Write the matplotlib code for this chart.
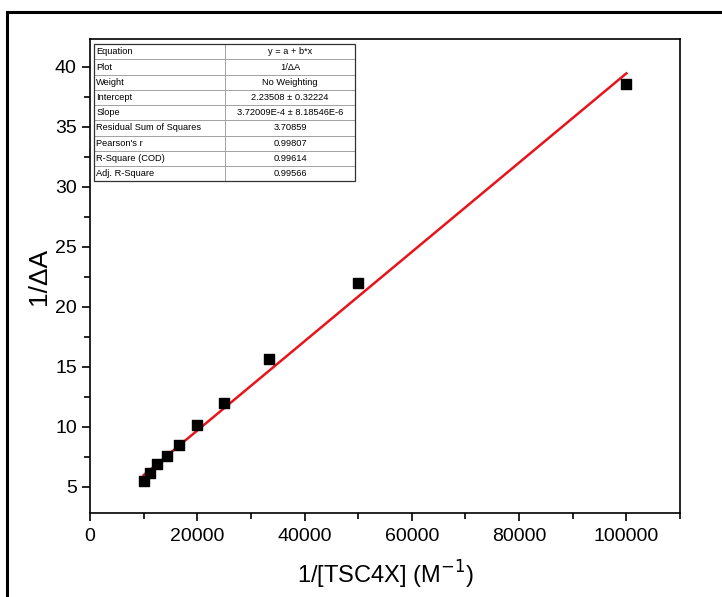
import matplotlib.pyplot as plt
from matplotlib.patches import Rectangle
from matplotlib.ticker import MultipleLocator

plt.rcParams['font.family'] = ['Liberation Sans', 'DejaVu Sans']

# 1/[TSC4X] (M^-1) and 1/dA
conc_inv = [10000, 11111, 12500, 14286, 16667, 20000, 25000, 33333, 50000, 100000]
inv_dA = [5.47, 6.17, 6.89, 7.56, 8.47, 10.14, 12.0, 15.64, 21.95, 38.56]

# linear fit results (from the Origin table)
intercept = 2.23508
slope = 3.72009e-4

fit_rows = ["Equation", "Plot", "Weight", "Intercept", "Slope",
            "Residual Sum of Squares", "Pearson's r", "R-Square (COD)", "Adj. R-Square"]
fit_vals = ["y = a + b*x", "1/\u0394A", "No Weighting", "2.23508 \u00b1 0.32224",
            "3.72009E-4 \u00b1 8.18546E-6", "3.70859", "0.99807", "0.99614", "0.99566"]

fig = plt.figure(figsize=(7.22, 5.97), dpi=100)
ax = fig.add_axes([90 / 722, 1 - 513 / 597, 590 / 722, 474 / 597])

# outer frame of the image
fig.patches.append(Rectangle((7 / 722, -0.05), 1.0, 1 - 12 / 597 + 0.05,
                             transform=fig.transFigure, fill=False,
                             edgecolor="black", linewidth=2.2))

ax.scatter(conc_inv, inv_dA, marker="s", s=62, color="black", zorder=3)
x_fit = [min(conc_inv), max(conc_inv)]
ax.plot(x_fit, [intercept + slope * x for x in x_fit], color="#e8141b", linewidth=1.8, zorder=2)

ax.set_xlim(0, 110000)
ax.set_ylim(2.8, 42.3)
ax.xaxis.set_major_locator(MultipleLocator(20000))
ax.xaxis.set_minor_locator(MultipleLocator(10000))
ax.yaxis.set_major_locator(MultipleLocator(5))
ax.yaxis.set_minor_locator(MultipleLocator(2.5))
ax.tick_params(which="major", direction="out", length=6, width=1.2, labelsize=14)
ax.tick_params(axis="x", which="major", pad=5)
ax.tick_params(which="minor", direction="out", length=4, width=1.2)
for sp in ax.spines.values():
    sp.set_linewidth(1.2)

ax.set_xlabel("1/[TSC4X] (M$^{-1}$)", fontsize=17, labelpad=10)
ax.set_ylabel("1/\u0394A", fontsize=19, labelpad=3)

# fit table
tab = ax.table(cellText=[[r, v] for r, v in zip(fit_rows, fit_vals)],
               colWidths=[0.223, 0.22],
               bbox=[0.006, 0.70, 0.443, 0.289])
tab.auto_set_font_size(False)
tab.set_fontsize(6.7)
for (r, c), cell in tab.get_celld().items():
    cell.set_edgecolor("#9a9a9a")
    cell.set_linewidth(0.6)
    cell.get_text().set_ha("left" if c == 0 else "center")
    if c == 0:
        cell.PAD = 0.02
ax.add_patch(Rectangle((0.006, 0.70), 0.443, 0.289, transform=ax.transAxes,
                       fill=False, edgecolor="#333333", linewidth=0.9, zorder=5))

fig.savefig("out.png", dpi=100)
